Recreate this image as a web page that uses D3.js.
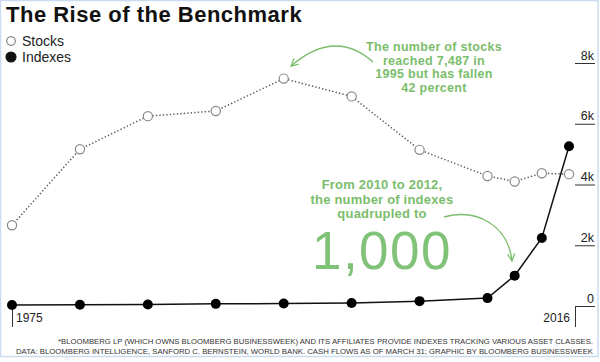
<!DOCTYPE html>
<html>
<head>
<meta charset="utf-8">
<script src="https://cdn.jsdelivr.net/npm/d3@7"></script>
<style>
  html, body { margin: 0; padding: 0; background: #fff; }
  svg { display: block; font-family: "Liberation Sans", Arial, Helvetica, sans-serif; }
</style>
</head>
<body>
<svg id="chart" width="600" height="362"></svg>
<script>
// ---- data ----
const years = [1975, 1980, 1985, 1990, 1995, 2000, 2005, 2010, 2012, 2014, 2016];
const stocks = [2660, 5160, 6250, 6420, 7487, 6900, 5140, 4280, 4100, 4370, 4340];
const indexes = [30, 40, 50, 70, 80, 100, 160, 260, 1000, 2240, 5260];
const yTicks = [0, 2000, 4000, 6000, 8000];
const yTickLabels = ["0", "2k", "4k", "6k", "8k"];
const xTickYears = [1975, 2016];
const seriesNames = ["Stocks", "Indexes"];
const title = "The Rise of the Benchmark";
const note1 = ["The number of stocks", "reached 7,487 in", "1995 but has fallen", "42 percent"];
const note2 = ["From 2010 to 2012,", "the number of indexes", "quadrupled to"];
const bigNumber = "1,000";
const footnotes = [
  "*BLOOMBERG LP (WHICH OWNS BLOOMBERG BUSINESSWEEK) AND ITS AFFILIATES PROVIDE INDEXES TRACKING VARIOUS ASSET CLASSES.",
  "DATA: BLOOMBERG INTELLIGENCE, SANFORD C. BERNSTEIN, WORLD BANK. CASH FLOWS AS OF MARCH 31; GRAPHIC BY BLOOMBERG BUSINESSWEEK"
];

// ---- setup ----
const svg = d3.select("#chart");
const green = "#7bbd6c";
const x = d3.scaleLinear().domain([1975, 2016]).range([12, 569]);
const y = d3.scaleLinear().domain([0, 8000]).range([306, 63]);

// frame
svg.append("rect").attr("x", 0.5).attr("y", 0.5).attr("width", 597.5).attr("height", 356)
  .attr("fill", "#fff").attr("stroke", "#c9dcf2").attr("stroke-width", 1.5);

// title
svg.append("text").attr("x", 6).attr("y", 22).text(title)
  .attr("font-size", 22).attr("font-weight", "bold").attr("letter-spacing", 0.5).attr("fill", "#111");

// legend
const leg = svg.append("g");
seriesNames.forEach((n, i) => {
  const cy = 41 + i * 16;
  leg.append("circle").attr("cx", 11).attr("cy", cy).attr("r", i === 0 ? 4.3 : 5)
    .attr("fill", i === 0 ? "#fff" : "#111").attr("stroke", i === 0 ? "#777" : "#111").attr("stroke-width", 1.1);
  leg.append("text").attr("x", 22).attr("y", cy + 5).text(n).attr("font-size", 14).attr("fill", "#222");
});

// y axis (right)
const yAxis = d3.axisRight(y).tickValues(yTicks).tickSize(0)
  .tickFormat((d, i) => yTickLabels[i]);
const ya = svg.append("g").attr("transform", "translate(575,0)").call(yAxis);
ya.select(".domain").remove();
ya.selectAll(".tick line").attr("x1", 0).attr("x2", 20).attr("stroke", "#333").attr("stroke-width", 1);
ya.selectAll(".tick text").attr("x", 19).attr("dy", -4).attr("text-anchor", "end")
  .attr("font-size", 12.5).attr("font-family", "Liberation Sans, Arial, sans-serif").attr("fill", "#222");
// corner vertical line under zero tick
svg.append("line").attr("x1", 575.5).attr("x2", 575.5).attr("y1", y(0)).attr("y2", 327)
  .attr("stroke", "#333").attr("stroke-width", 1);

// x axis ticks (1975 and 2016)
const xa = svg.append("g");
xa.append("line").attr("x1", x(xTickYears[0]) + 0.5).attr("x2", x(xTickYears[0]) + 0.5)
  .attr("y1", y(0)).attr("y2", 327).attr("stroke", "#333").attr("stroke-width", 1);
xa.append("text").attr("x", x(xTickYears[0]) + 4).attr("y", 322).text(xTickYears[0])
  .attr("font-size", 12).attr("fill", "#222");
xa.append("text").attr("x", x(xTickYears[1]) + 1).attr("y", 322).attr("text-anchor", "end")
  .text(xTickYears[1]).attr("font-size", 12).attr("fill", "#222");

// stocks line (dotted)
const line = d3.line().x((d, i) => x(years[i])).y(d => y(d));
svg.append("path").datum(stocks).attr("d", line).attr("fill", "none")
  .attr("stroke", "#555").attr("stroke-width", 1.5).attr("stroke-dasharray", "1.3,2.2");
svg.append("g").selectAll("circle").data(stocks).join("circle")
  .attr("cx", (d, i) => x(years[i])).attr("cy", d => y(d)).attr("r", 4.6)
  .attr("fill", "#fff").attr("stroke", "#888").attr("stroke-width", 1.2);

// indexes line (solid)
svg.append("path").datum(indexes).attr("d", line).attr("fill", "none")
  .attr("stroke", "#111").attr("stroke-width", 1.5);
svg.append("g").selectAll("circle").data(indexes).join("circle")
  .attr("cx", (d, i) => x(years[i])).attr("cy", d => y(d)).attr("r", 5)
  .attr("fill", "#000");

// arrow marker
const defs = svg.append("defs");
defs.append("marker").attr("id", "arr").attr("viewBox", "0 0 10 10").attr("refX", 9).attr("refY", 5)
  .attr("markerWidth", 9).attr("markerHeight", 9).attr("markerUnits", "userSpaceOnUse").attr("orient", "auto")
  .append("path").attr("d", "M1,1 L9,5 L1,9").attr("fill", "none").attr("stroke", green).attr("stroke-width", 1.4);

// annotation 1
const a1 = svg.append("g").attr("fill", green).attr("font-weight", "bold").attr("font-size", 12.5)
  .attr("letter-spacing", 0.3).attr("text-anchor", "middle");
note1.forEach((t, i) => a1.append("text").attr("x", 434).attr("y", 51 + i * 13.5).text(t));
svg.append("path").attr("d", "M373,62 Q335,28 291,66").attr("fill", "none")
  .attr("stroke", green).attr("stroke-width", 1.4).attr("marker-end", "url(#arr)");

// annotation 2
const a2 = svg.append("g").attr("fill", green).attr("text-anchor", "middle");
note2.forEach((t, i) => a2.append("text").attr("x", 382).attr("y", 189 + i * 14.5)
  .attr("font-weight", "bold").attr("font-size", 13).attr("letter-spacing", 0.2).text(t));
a2.append("text").attr("x", 382).attr("y", 269).attr("font-size", 53).attr("fill", "#80c277")
  .attr("letter-spacing", 1.5).text(bigNumber);
svg.append("path").attr("d", "M444,217 C478,208 508,226 512,261").attr("fill", "none")
  .attr("stroke", green).attr("stroke-width", 1.4).attr("marker-end", "url(#arr)");

// footnotes
const fn = svg.append("g").attr("font-size", 7).attr("fill", "#333").attr("text-anchor", "end");
fn.append("text").attr("x", 593).attr("y", 344).attr("textLength", 535).attr("lengthAdjust", "spacingAndGlyphs").text(footnotes[0]);
fn.append("text").attr("x", 593).attr("y", 354).attr("textLength", 577).attr("lengthAdjust", "spacingAndGlyphs").text(footnotes[1]);
</script>
</body>
</html>
